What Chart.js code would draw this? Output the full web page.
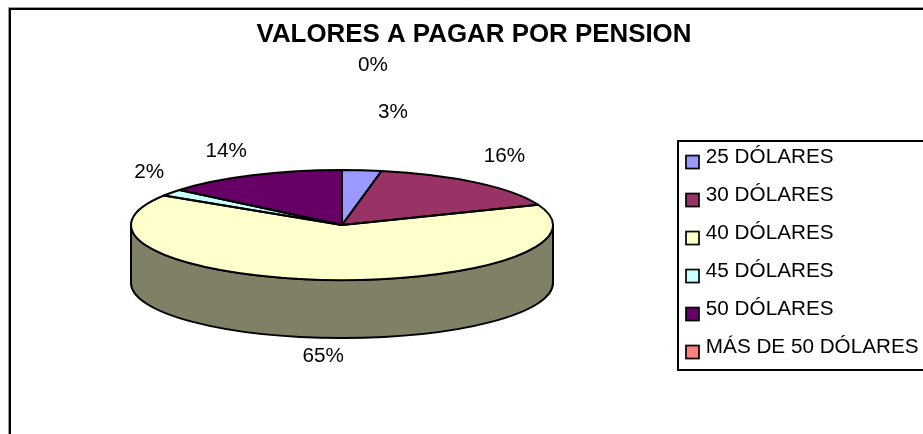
<!DOCTYPE html>
<html><head><meta charset="utf-8">
<style>html,body{margin:0;padding:0;background:#fff;overflow:hidden}#w{width:923px;height:434px;position:relative}canvas{display:block}</style>
<script src="https://cdn.jsdelivr.net/npm/chart.js@4"></script>
</head><body><div id="w"><canvas id="c" width="923" height="434"></canvas></div>
<script>
const chartTitle = 'VALORES A PAGAR POR PENSION';
const categories = ['25 DÓLARES','30 DÓLARES','40 DÓLARES','45 DÓLARES','50 DÓLARES','MÁS DE 50 DÓLARES'];
const percentValues = [3,16,65,2,14,0];
const sliceColors = ['#9999FF','#993366','#FFFFCC','#CCFFFF','#660066','#FF8080'];
const labelOffsets = [[31,-58],[28,-26],[1,77],[-22,-20],[-26,-24],[31,-105]];
const FONT = '"Liberation Sans", Arial, sans-serif';
const TILT = 55/211, DEPTH = 58, SIDE = '#808066';

function marker(color){
  const m = document.createElement('canvas');
  m.width = 15; m.height = 26;
  const g = m.getContext('2d');
  g.fillStyle = color; g.strokeStyle = '#000'; g.lineWidth = 1.7;
  g.fillRect(1,11.5,13,13); g.strokeRect(1,11.5,13,13);
  return m;
}

const pie3d = {
  id:'pie3d',
  afterLayout(chart){
    Object.assign(chart.chartArea,{left:0,right:684,top:16,bottom:434,width:684,height:418});
    const t = chart.titleBlock; t.left=25; t.right=923; t.width=898; t.top=19; t.bottom=t.top+t.height;
    const l = chart.legend; l.left=672.2; l.top=129.4; l.right=l.left+l.width; l.bottom=l.top+l.height;
  },
  beforeDraw(chart){
    const c = chart.ctx; c.save();
    c.strokeStyle='#999'; c.lineWidth=1;
    c.beginPath(); c.moveTo(8.5,434); c.lineTo(8.5,7.5); c.lineTo(923,7.5); c.stroke();
    c.strokeStyle='#000'; c.lineWidth=2;
    c.beginPath(); c.moveTo(10,434); c.lineTo(10,9); c.lineTo(923,9); c.stroke();
    c.beginPath(); c.moveTo(923,141); c.lineTo(678,141); c.lineTo(678,370); c.lineTo(923,370); c.stroke();
    c.restore();
  },
  beforeDatasetDraw(chart,args){
    const c = chart.ctx, a = args.meta.data[0], x=a.x, y=a.y, r=a.outerRadius, ry=r*TILT;
    c.save();
    c.beginPath();
    c.moveTo(x-r,y); c.lineTo(x-r,y+DEPTH);
    c.ellipse(x,y+DEPTH,r,ry,0,Math.PI,0,true);
    c.lineTo(x+r,y);
    c.ellipse(x,y,r,ry,0,0,Math.PI,false);
    c.closePath();
    c.fillStyle=SIDE; c.fill();
    c.strokeStyle='#000'; c.lineWidth=2; c.stroke();
    c.restore();
    c.save();
    c.translate(x,y); c.scale(1,TILT); c.translate(-x,-y);
  },
  afterDatasetDraw(chart,args){
    const c = chart.ctx; c.restore();
    const meta=args.meta;
    meta.data.forEach((a,i)=>{
      if(percentValues[i]<=0) return;
      c.save();
      c.beginPath();
      c.save();
      c.translate(a.x,a.y); c.scale(1,TILT);
      c.moveTo(0,0); c.arc(0,0,a.outerRadius,a.startAngle,a.endAngle); c.closePath();
      c.restore();
      c.strokeStyle='#000'; c.lineWidth=2; c.lineJoin='round'; c.stroke();
      c.restore();
    });
    c.save();
    c.font='20.7px '+FONT; c.fillStyle='#000'; c.textAlign='center'; c.textBaseline='middle';
    meta.data.forEach((a,i)=>{
      const m=(a.startAngle+a.endAngle)/2;
      const px=a.x+a.outerRadius*Math.cos(m), py=a.y+a.outerRadius*TILT*Math.sin(m);
      c.fillText(percentValues[i]+'%',px+labelOffsets[i][0],py+labelOffsets[i][1]);
    });
    c.restore();
  }
};

new Chart(document.getElementById('c'),{
  type:'pie',
  data:{labels:categories,datasets:[{data:percentValues,backgroundColor:sliceColors,borderWidth:0,clip:false,radius:211}]},
  options:{
    responsive:false,animation:false,devicePixelRatio:1,
    plugins:{
      tooltip:{enabled:false},
      title:{display:true,text:chartTitle,color:'#000',font:{family:FONT,size:25.9,weight:'bold'},padding:0},
      legend:{position:'right',align:'start',labels:{
        color:'#000',font:{family:FONT,size:20.7},boxWidth:6,boxHeight:6,padding:17.3,usePointStyle:true,
        generateLabels(chart){
          return categories.map((t,i)=>({text:t,fillStyle:sliceColors[i],pointStyle:marker(sliceColors[i]),index:i,hidden:false,lineWidth:0,strokeStyle:'transparent',fontColor:'#000'}));
        }
      }}
    }
  },
  plugins:[pie3d]
});
</script>
</body></html>
